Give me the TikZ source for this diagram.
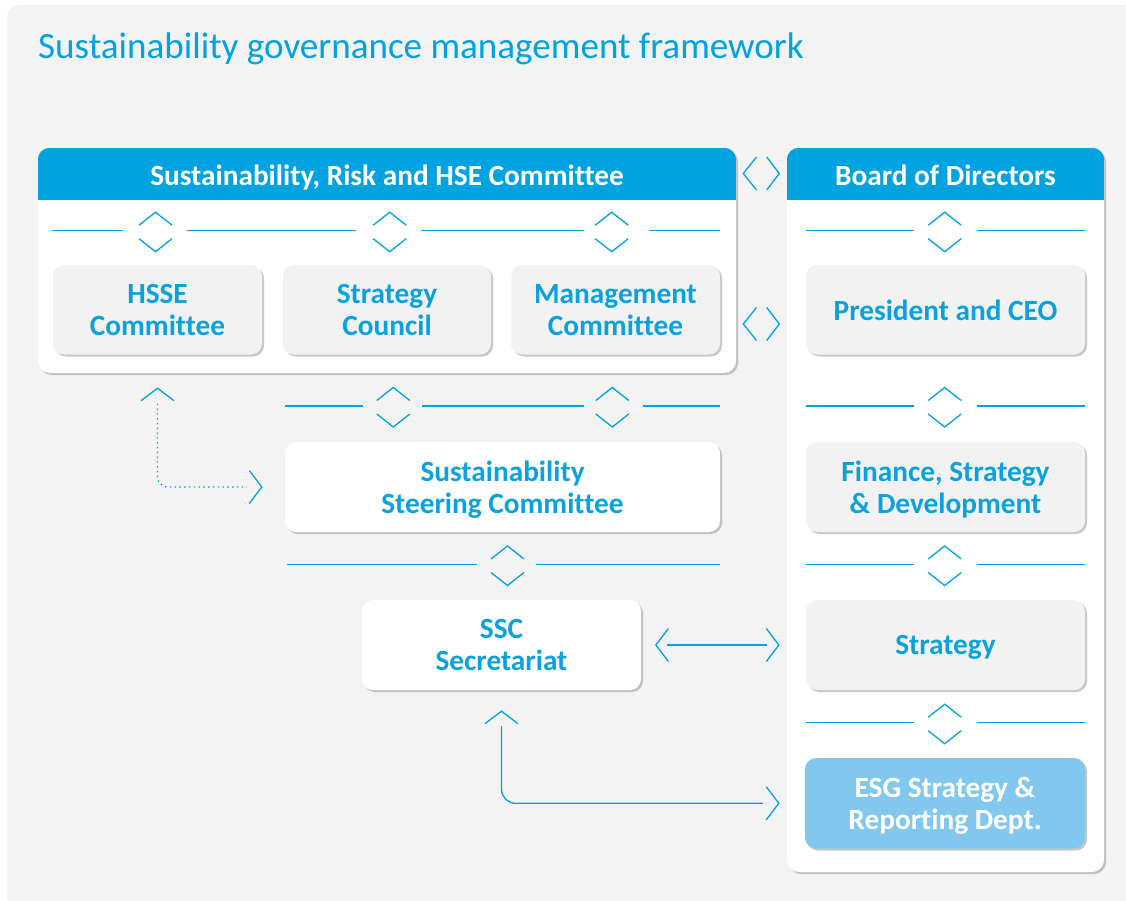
\documentclass[tikz,border=0pt]{standalone}
\usepackage{fontspec}
\setmainfont{Carlito}[Ligatures=CommonOff]
\usetikzlibrary{shadows}
\definecolor{hblue}{HTML}{00A3E0}
\definecolor{tblue}{HTML}{0AA2DD}
\definecolor{lblue}{HTML}{82C8EE}
\definecolor{bggray}{HTML}{F3F3F3}
\definecolor{boxgray}{HTML}{F2F2F2}
\tikzset{
  conn/.style={draw=hblue, line width=1.3pt},
  chev/.style={draw=hblue, line width=1.3pt},
  dotconn/.style={draw=hblue, line width=1.4pt, dash pattern=on 1.4pt off 3.4pt},
  shad/.style={drop shadow={shadow xshift=2pt, shadow yshift=-2pt, opacity=0.3, fill=black!70}},
  bigbox/.style={rounded corners=12pt, fill=white, inner sep=0pt, shad},
  inbox/.style={rounded corners=11pt, fill=boxgray, inner sep=0pt, align=center, text depth=0pt,
    text=tblue, font=\bfseries\fontsize{29.3}{32}\selectfont, shad},
  wbox/.style={inbox, fill=white},
  ebox/.style={inbox, fill=lblue, text=white},
  htext/.style={text=white, text depth=0pt, font=\bfseries\fontsize{29.3}{32}\selectfont},
  chevU/.pic={\draw[chev] (-16.5,12.5) -- (0,0) -- (16.5,12.5);},
  chevR/.pic={\draw[chev] (-12.5,-16.5) -- (0,0) -- (-12.5,16.5);},
  chevL/.pic={\draw[chev] (12.5,-16.5) -- (0,0) -- (12.5,16.5);},
  updown/.pic={\draw[chev] (-16.5,-5.5) -- (0,-18.5) -- (16.5,-5.5);
               \draw[chev] (-16.5,8) -- (0,21) -- (16.5,8);},
  lr/.pic={\draw[chev] (-4.8,-16.5) -- (-18,0) -- (-4.8,16.5);
           \draw[chev] (5.4,-16.5) -- (18,0) -- (5.4,16.5);}
}
\begin{document}
\begin{tikzpicture}[x=1pt, y=-1pt]
\useasboundingbox (0,0) rectangle (1126,901);
\begin{scope}
  \clip (0,0) rectangle (1126,901);
  \fill[bggray, rounded corners=12pt] (7,5) rectangle (1150,930);
\end{scope}

% title
\node[anchor=base west, inner sep=0pt, text=hblue, font=\fontsize{37.1}{41}\selectfont] (title) at (38,59)
  {Sustainability governance management framework};

% big boxes
\node[bigbox, minimum width=698pt, minimum height=225pt] (srh) at (387,260.5) {};
\node[bigbox, minimum width=317pt, minimum height=724pt] (bod) at (945.5,510) {};
\begin{scope}
  \clip[rounded corners=12pt] (srh.south west) rectangle (srh.north east);
  \fill[hblue] (srh.north west) rectangle (srh.east |- 0,200);
\end{scope}
\begin{scope}
  \clip[rounded corners=12pt] (bod.south west) rectangle (bod.north east);
  \fill[hblue] (bod.north west) rectangle (bod.east |- 0,200);
\end{scope}
\node[htext] (srhT) at (387,175) {Sustainability, Risk and HSE Committee};
\node[htext] (bodT) at (945.5,175) {Board of Directors};

% inner boxes
\node[inbox, minimum width=209pt, minimum height=89.5pt] (hsse) at (157.5,309.75) {HSSE\\Committee};
\node[inbox, minimum width=208pt, minimum height=89.5pt] (council) at (387,309.75) {Strategy\\Council};
\node[inbox, minimum width=209pt, minimum height=89.5pt] (mgmt) at (615.5,309.75) {Management\\Committee};
\node[inbox, minimum width=279pt, minimum height=89.5pt] (ceo) at (945.5,309.75) {President and CEO};
\node[wbox, minimum width=435pt, minimum height=90pt] (steer) at (502.5,487) {Sustainability\\Steering Committee};
\node[inbox, minimum width=279pt, minimum height=90pt] (fin) at (945.5,487) {Finance, Strategy\\\& Development};
\node[wbox, minimum width=279pt, minimum height=90pt] (ssc) at (501.5,645) {SSC\\Secretariat};
\node[inbox, minimum width=279pt, minimum height=90pt] (strat) at (945.5,645) {Strategy};
\node[ebox, minimum width=280pt, minimum height=90.5pt] (esg) at (945,803.3) {ESG Strategy \&\\Reporting Dept.};

% separator rows - left
\draw[conn] (52,230.7) -- (123,230.7);
\draw[conn] (187,230.7) -- (356,230.7);
\draw[conn] (421,230.7) -- (584,230.7);
\draw[conn] (649,230.7) -- (720,230.7);
\pic at (155.5,230.7) {updown};
\pic at (389.7,230.7) {updown};
\pic at (611.7,230.7) {updown};

\draw[conn] (285,406) -- (363,406);
\draw[conn] (422,406) -- (584,406);
\draw[conn] (643,406) -- (720,406);
\pic at (393.3,406) {updown};
\pic at (612.3,406) {updown};

\draw[conn] (287,564.5) -- (477,564.5);
\draw[conn] (536,564.5) -- (720,564.5);
\pic at (507.5,564.5) {updown};

% separator rows - right
\foreach \yy in {230.7,406,564.5,722.7}{
  \draw[conn] (806,\yy) -- (914,\yy);
  \draw[conn] (977,\yy) -- (1085,\yy);
  \pic at (944.7,\yy) {updown};
}

% chevrons between the two committees
\pic at (761.3,173.5) {lr};
\pic at (761.3,324) {lr};

% SSC <-> Strategy
\draw[conn] ([xshift=26pt]ssc.east) -- ([xshift=-39pt]strat.west);
\pic at ([xshift=14.7pt]ssc.east) {chevL};
\pic at ([xshift=-27pt]strat.west) {chevR};

% SSC <-> ESG
\draw[conn, rounded corners=14pt] ([yshift=-36pt]ssc.south) |- ([xshift=-42pt]esg.west);
\pic at ([yshift=-21pt]ssc.south) {chevU};
\pic at ([xshift=-26pt]esg.west) {chevR};

% HSSE <-> Steering (dotted)
\draw[dotconn, rounded corners=10pt] ([yshift=-49pt]hsse.south) |- ([xshift=-38pt]steer.west);
\pic at ([yshift=-33.5pt]hsse.south) {chevU};
\pic at ([xshift=-23pt]steer.west) {chevR};
\end{tikzpicture}
\end{document}
